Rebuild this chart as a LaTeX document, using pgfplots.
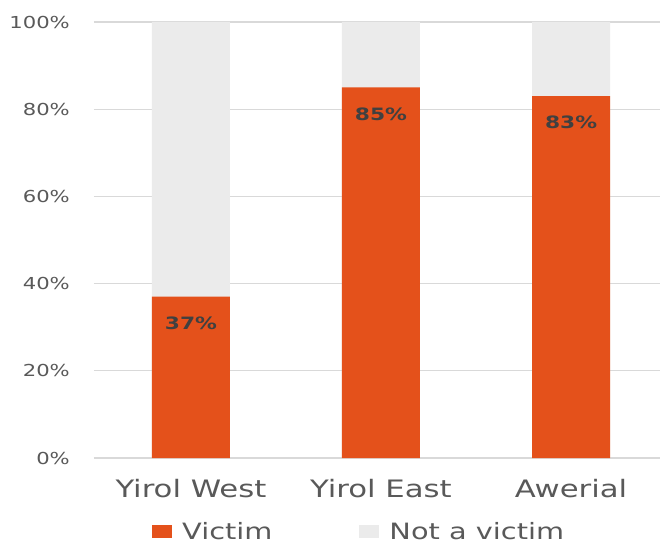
\documentclass[border=0pt]{standalone}
\usepackage{pgfplots}
\pgfplotsset{compat=1.18}
\usepackage{fontspec}
\setmainfont{DejaVu Sans}[FakeStretch=1.28]
\definecolor{vic}{HTML}{E4511B}
\definecolor{notv}{HTML}{EBEBEB}
\definecolor{grd}{HTML}{D9D9D9}
\definecolor{lbl}{HTML}{595959}
\definecolor{dlbl}{HTML}{404040}
\begin{document}
\begin{tikzpicture}
\useasboundingbox (-94pt,-86pt) rectangle (571pt,458pt);
\begin{axis}[
  at={(0pt,0pt)}, anchor=south west,
  scale only axis, width=566pt, height=436pt,
  ybar, bar width=78pt, bar shift=0pt,
  xmin=-0.51, xmax=2.468, ymin=0, ymax=100,
  xtick={0,1,2}, xticklabels={Yirol West, Yirol East, Awerial},
  ytick={0,20,...,100},
  yticklabel={\pgfmathprintnumber{\tick}\%},
  /pgf/number format/assume math mode=true,
  ymajorgrids, grid style={grd, line width=1.2pt},
  axis line style={draw=none}, major tick length=0pt,
  yticklabel style={font=\fontsize{16.5}{18}\selectfont, text=lbl, inner sep=0pt, anchor=east, xshift=-24pt},
  xticklabel style={font=\fontsize{24}{26}\selectfont, text=lbl, inner sep=0pt, anchor=north, yshift=-21pt},
  legend style={at={(axis description cs:0.1025,0)}, anchor=west, yshift=-73.5pt,
    draw=none, fill=none, inner sep=0pt, legend columns=2,
    font=\fontsize{22.5}{24}\selectfont, text=lbl,
    /tikz/every even column/.append style={column sep=85pt}},
  legend image code/.code={\fill[#1] (0pt,-6.5pt) rectangle (20pt,6.5pt); \path (28pt,0pt);},
  legend cell align=left,
  reverse legend,
]
% grey bar: total (Victim + Not a victim = 100%)
\addplot+[fill=notv, draw=none] coordinates {(0,100) (1,100) (2,100)};
\addplot+[fill=vic, draw=none,
  nodes near coords={\pgfmathprintnumber{\pgfplotspointmeta}\%},
  every node near coord/.append style={font=\bfseries\fontsize{17}{18}\selectfont, text=dlbl, anchor=center, yshift=-26.5pt}]
  coordinates {(0,37) (1,85) (2,83)};
\legend{Not a victim, Victim}
\end{axis}
\end{tikzpicture}
\end{document}
